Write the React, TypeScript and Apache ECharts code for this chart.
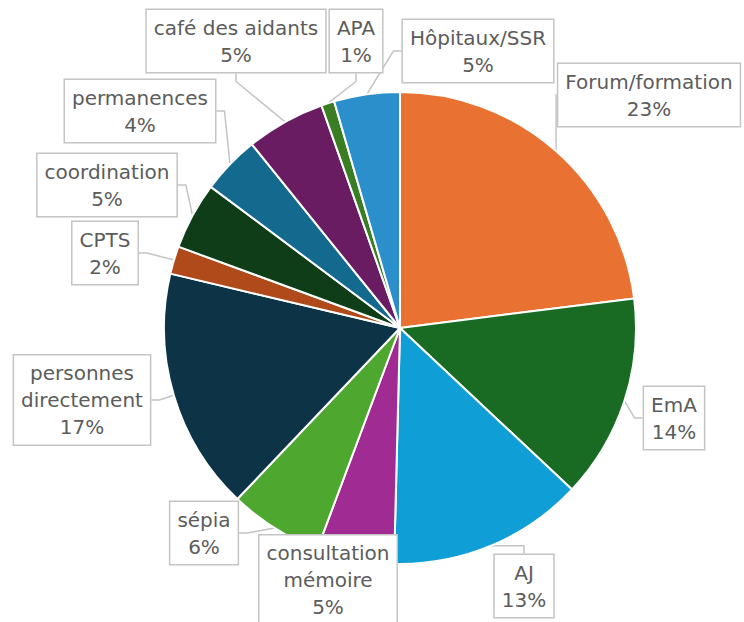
import React, { useEffect, useRef } from 'react';
import * as echarts from 'echarts';

// Slices in clockwise order from 12 o'clock
const categories = [
  'Forum/formation',
  'EmA',
  'AJ',
  'consultation mémoire',
  'sépia',
  'personnes directement',
  'CPTS',
  'coordination',
  'permanences',
  'café des aidants',
  'APA',
  'Hôpitaux/SSR',
];
const shares = [23.0, 14.0, 13.4, 5.3, 6.4, 16.6, 1.9, 4.6, 4.0, 5.4, 0.9, 4.5];
const sliceColors = [
  '#E97132', '#196B24', '#0F9ED5', '#A02B93', '#4EA72E', '#0C3446',
  '#B04A1A', '#0E3D17', '#14698F', '#6A1C62', '#3A7D22', '#2A8FCB',
];

const twoLineNames = new Set(['personnes directement', 'consultation mémoire']);

const labelCenters: Record<string, [number, number]> = {
  'Forum/formation': [649, 95],
  'EmA': [674, 418],
  'AJ': [524, 586],
  'consultation mémoire': [328, 580],
  'sépia': [204, 533],
  'personnes directement': [82, 400],
  'CPTS': [105, 253],
  'coordination': [107, 185],
  'permanences': [140, 111],
  'café des aidants': [236, 41],
  'APA': [356, 41],
  'Hôpitaux/SSR': [478, 51],
};

export default function App() {
  const ref = useRef<HTMLDivElement>(null);
  useEffect(() => {
    if (!ref.current) return;
    const chart = echarts.init(ref.current, null, { renderer: 'svg' });
    const data = categories.map((name, i) => ({
      name,
      value: shares[i],
      itemStyle: { color: sliceColors[i] },
    }));
    chart.setOption({
      animation: false,
      backgroundColor: '#ffffff',
      series: [
        {
          type: 'pie',
          center: [400, 328],
          radius: 236,
          startAngle: 90,
          clockwise: true,
          percentPrecision: 0,
          avoidLabelOverlap: false,
          data,
          itemStyle: { borderColor: '#ffffff', borderWidth: 2 },
          label: {
            show: true,
            position: 'outside',
            formatter: (p: any) => {
              const n = twoLineNames.has(p.name) ? p.name.replace(' ', '\n') : p.name;
              return n + '\n' + p.percent + '%';
            },
            color: '#5c5c5c',
            fontSize: 20,
            fontFamily: 'DejaVu Sans',
            lineHeight: 27,
            align: 'center',
            backgroundColor: '#ffffff',
            borderColor: '#C4C4C4',
            borderWidth: 1.5,
            padding: [4, 7],
          },
          labelLine: {
            show: true,
            length: 10,
            length2: 8,
            lineStyle: { color: '#C4C4C4', width: 1.5 },
          },
          labelLayout: (params: any) => {
            const name = categories[params.dataIndex];
            const p = labelCenters[name];
            return {
              x: p[0],
              y: p[1],
              align: 'center',
              verticalAlign: 'middle',
            };
          },
          emphasis: { disabled: true },
        },
      ],
    });
    return () => chart.dispose();
  }, []);
  return (
    <div
      ref={ref}
      style={{ position: 'fixed', left: 0, top: 0, width: 744, height: 622 }}
    />
  );
}
